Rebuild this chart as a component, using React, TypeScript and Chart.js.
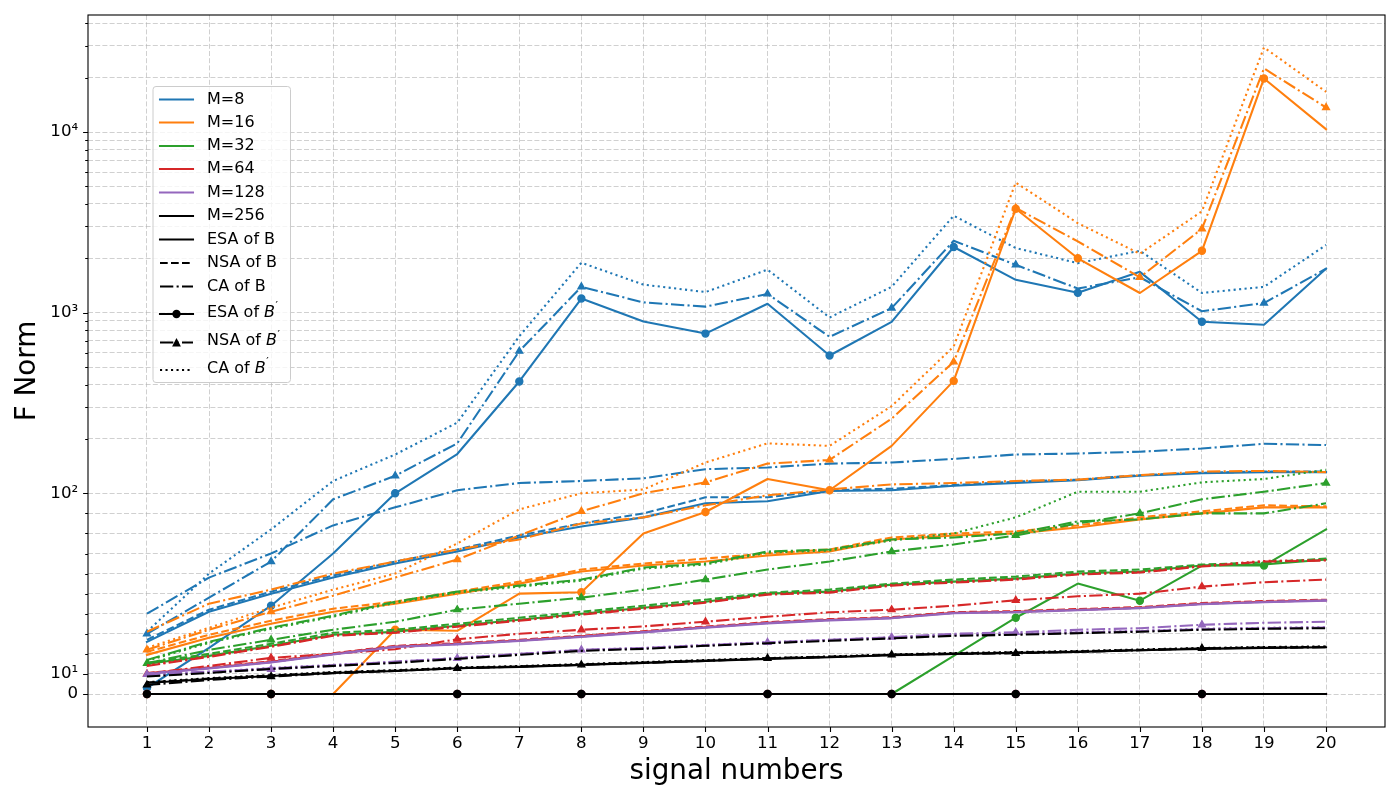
import React, { useEffect, useRef } from 'react';
import { Chart, registerables, LinearScale } from 'chart.js';

Chart.register(...registerables);

// ---------------- data ----------------
const SIGNALS = [1, 2, 3, 4, 5, 6, 7, 8, 9, 10, 11, 12, 13, 14, 15, 16, 17, 18, 19, 20];
const M_LABELS = ['M=8', 'M=16', 'M=32', 'M=64', 'M=128', 'M=256'];
const METHOD_LABELS = ['ESA of B', 'NSA of B', 'CA of B', 'ESA of B′', 'NSA of B′', 'CA of B′'];
const COLORS = ['#1f77b4', '#ff7f0e', '#2ca02c', '#d62728', '#9467bd', '#000000'];

const Y_TICKS = [0, 10, 20, 30, 40, 50, 60, 70, 80, 90, 100, 200, 300, 400, 500, 600, 700, 800, 900, 1000, 2000, 3000, 4000, 5000, 6000, 7000, 8000, 9000, 10000, 20000, 30000, 40000];
const Y_MAJOR = [0, 10, 100, 1000, 10000];
const Y_TICK_LABELS: Record<number, string> = { 0: '0', 10: '10¹', 100: '10²', 1000: '10³', 10000: '10⁴' };

const M8_ESA_B = [26, 41, 50, 58, 65, 71, 78, 83.5, 88, 95, 96, 103, 104, 110, 114, 118, 125, 129, 131, 131];
const M8_NSA_B = [27, 42, 51, 59, 66, 72, 79, 85, 90, 98, 98, 104, 106, 111, 116, 119, 126, 130, 132, 132];
const M8_CA_B = [40, 58, 70, 84, 93, 104, 114, 117, 121, 136, 139, 146, 148, 155, 164, 166, 170, 177, 188, 185];
const M8_ESA_BP = [3, 23, 44, 70, 100, 165, 416, 1197, 894, 766, 1120, 579, 889, 2310, 1520, 1290, 1683, 890, 858, 1750];
const M8_NSA_BP = [30, 48, 66, 97, 125, 189, 612, 1390, 1140, 1080, 1270, 735, 1060, 2500, 1840, 1360, 1570, 1018, 1130, 1750];
const M8_CA_BP = [31, 60, 82, 117, 164, 246, 740, 1890, 1430, 1300, 1730, 940, 1390, 3440, 2280, 1880, 2200, 1285, 1390, 2370];

const M16_ESA_B = [19.5, 28, 35, 41, 45, 50, 55, 61, 64, 66, 69, 71, 77, 79, 80, 83, 87, 90, 93, 93];
const M16_NSA_B = [21, 29.5, 36.5, 42.5, 46, 51, 56, 62, 65, 67.5, 70, 72, 78, 80, 81, 84, 88, 91, 94, 93.5];
const M16_CA_B = [31, 45, 52, 60, 66, 72, 77, 85, 88, 94, 99, 105, 112, 114, 117, 119, 126, 132, 133, 131];
const M16_ESA_BP = [0, 0, 0, 0, 32, 31.5, 50, 50.7, 80, 90.7, 120, 104, 183, 419, 3760, 2000, 1285, 2200, 19800, 10360];
const M16_NSA_BP = [22, 32, 41, 49, 58, 67, 79, 91, 100, 115, 146, 153, 259, 534, 3800, 2480, 1570, 2910, 22500, 13670];
const M16_CA_BP = [23, 33, 43, 52, 60, 75, 92, 100, 105, 148, 189, 183, 304, 650, 5250, 3130, 2120, 3640, 29400, 16700];

const M32_ESA_B = [15, 19, 24, 29.5, 31, 34, 37, 40, 43, 46, 50, 51, 54.5, 56, 57.5, 60, 61, 64, 64.5, 67];
const M32_NSA_B = [15.5, 20, 25, 30.5, 32, 35, 38, 41, 44, 47, 50.5, 52, 55, 57, 58.5, 61, 62, 64.5, 65.5, 67.5];
const M32_CA_B = [17, 26, 33, 39, 46, 51, 54, 57, 63, 65, 71, 72, 77, 78, 80, 86, 87, 90, 90, 95];
const M32_ESA_BP = [0, 0, 0, 0, 0, 0, 0, 0, 0, 0, 0, 0, 0, 19, 38, 55, 46.5, 64, 64, 82];
const M32_NSA_BP = [15.3, 22, 27, 32, 36, 42, 45, 48, 52, 57, 62, 66, 71, 74.5, 79, 85, 90, 97, 102, 114];
const M32_CA_BP = [16.5, 25.5, 32.5, 38.5, 45.5, 50.5, 53.5, 56.5, 62.5, 64.5, 70.5, 71.5, 76.5, 80, 88, 102, 102, 115, 120, 135];

const M64_ESA_B = [10.3, 13, 16, 20, 23.7, 25, 26.7, 28.7, 31, 33.3, 35.5, 37, 38, 40.5, 41, 42, 43, 45, 46, 46.7];
const M64_NSA_B = [10.5, 13.3, 16.3, 20.3, 24, 25.3, 27, 29, 31.3, 33.6, 35.8, 37.3, 38.3, 40.8, 41.3, 42.3, 43.3, 45.3, 46.3, 47];
const M64_CA_B = [14, 18.5, 23.5, 29, 30.5, 33.5, 36.5, 39.5, 42.5, 45.5, 49.5, 50.5, 54, 55.5, 57, 59.5, 60.5, 63.5, 66, 66.5];
const M64_ESA_BP = [0, 0, 0, 0, 0, 0, 0, 0, 0, 0, 0, 0, 0, 0, 0, 0, 0, 0, 0, 0];
const M64_NSA_BP = [10, 14, 18, 20, 22.3, 27.3, 30, 32, 33.7, 36, 38.5, 40.7, 42, 44, 46.7, 48.7, 50, 53.5, 55.7, 57];
const M64_CA_BP = [14.3, 18.8, 23.8, 29.3, 30.8, 33.8, 36.8, 39.8, 42.8, 45.8, 49.8, 50.8, 54.3, 55.8, 57.3, 59.8, 60.8, 63.8, 66.3, 66.8];

const M128_ESA_B = [10, 12.7, 15.7, 19.7, 23.4, 24.7, 26.4, 28.4, 30.7, 33, 35.2, 36.7, 37.7, 40.2, 40.7, 41.7, 42.7, 44.7, 45.7, 46.5];
const M128_NSA_B = [10.2, 12.9, 15.9, 19.9, 23.6, 24.9, 26.6, 28.6, 30.9, 33.2, 35.4, 36.9, 37.9, 40.4, 40.9, 41.9, 42.9, 44.9, 45.9, 46.7];
const M128_CA_B = [9, 10.8, 12.8, 14.3, 15.8, 17.8, 19.8, 21.8, 22.8, 24.3, 25.6, 26.8, 28, 29.3, 29.8, 30.6, 31.3, 32.3, 32.8, 33.1];
const M128_ESA_BP = [0, 0, 0, 0, 0, 0, 0, 0, 0, 0, 0, 0, 0, 0, 0, 0, 0, 0, 0, 0];
const M128_NSA_BP = [9.8, 11.2, 12.3, 14, 16.2, 17.8, 20, 22, 22.8, 24, 25.7, 27, 28.3, 30, 30.7, 32, 32.8, 34.5, 35.5, 36];
const M128_CA_BP = [9.2, 11, 13, 14.5, 16, 18, 20, 22, 23, 24.5, 25.8, 27, 28.2, 29.5, 30, 30.8, 31.5, 32.5, 33, 33.3];

const M256_ESA_B = [5.5, 7.5, 9, 10.5, 11.5, 12.8, 13.5, 14.5, 15.5, 16.5, 17.5, 18.3, 19.3, 20, 20.5, 21, 21.8, 22.5, 23, 23.3];
const M256_NSA_B = [5.7, 7.7, 9.2, 10.7, 11.7, 13, 13.7, 14.7, 15.7, 16.7, 17.7, 18.5, 19.5, 20.2, 20.7, 21.2, 22, 22.7, 23.2, 23.5];
const M256_CA_B = [8.7, 10.5, 12.5, 14, 15.5, 17.5, 19.5, 21.5, 22.5, 24, 25.3, 26.5, 27.7, 29, 29.5, 30.3, 31, 32, 32.5, 32.8];
const M256_ESA_BP = [0, 0, 0, 0, 0, 0, 0, 0, 0, 0, 0, 0, 0, 0, 0, 0, 0, 0, 0, 0];
const M256_NSA_BP = [4.5, 7, 8.7, 10.3, 11.5, 12.8, 13.7, 14.5, 15.5, 16.5, 17.8, 18.5, 19.5, 20, 20.3, 21, 21.8, 22.8, 23, 23.3];
const M256_CA_BP = [5.9, 7.9, 9.4, 10.9, 11.9, 13.2, 13.9, 14.9, 15.9, 16.9, 17.9, 18.7, 19.7, 20.4, 20.9, 21.4, 22.2, 22.9, 23.4, 23.7];

const SERIES: number[][][] = [
  [M8_ESA_B, M8_NSA_B, M8_CA_B, M8_ESA_BP, M8_NSA_BP, M8_CA_BP],
  [M16_ESA_B, M16_NSA_B, M16_CA_B, M16_ESA_BP, M16_NSA_BP, M16_CA_BP],
  [M32_ESA_B, M32_NSA_B, M32_CA_B, M32_ESA_BP, M32_NSA_BP, M32_CA_BP],
  [M64_ESA_B, M64_NSA_B, M64_CA_B, M64_ESA_BP, M64_NSA_BP, M64_CA_BP],
  [M128_ESA_B, M128_NSA_B, M128_CA_B, M128_ESA_BP, M128_NSA_BP, M128_CA_BP],
  [M256_ESA_B, M256_NSA_B, M256_CA_B, M256_ESA_BP, M256_NSA_BP, M256_CA_BP],
];

// ---------------- styles ----------------
const FONT = "'DejaVu Sans', 'Liberation Sans', sans-serif";
const LW = 2.08;
const DASHED = [7.7, 3.3];
const DASHDOT = [13.3, 3.3, 2.1, 3.3];
const DOTTED = [2.1, 3.4];
const METHOD_STYLES: { dash: number[]; marker: string | null }[] = [
  { dash: [], marker: null },
  { dash: DASHED, marker: null },
  { dash: DASHDOT, marker: null },
  { dash: [], marker: 'circle' },
  { dash: DASHDOT, marker: 'triangle' },
  { dash: DOTTED, marker: null },
];
const GRID_COLOR = 'rgba(176,176,176,0.6)';
const GRID_DASH = [5, 2.2];

// ---------------- symlog scale (linthresh 100, linscale 1) ----------------
const LINTHRESH = 100;
const LINSCALE_ADJ = 1 / (1 - 1 / 10);
function symT(v: number): number {
  const a = Math.abs(v);
  if (a <= LINTHRESH) return v * LINSCALE_ADJ;
  return Math.sign(v) * LINTHRESH * (LINSCALE_ADJ + Math.log10(a / LINTHRESH));
}
function symInv(t: number): number {
  const a = Math.abs(t);
  if (a <= LINTHRESH * LINSCALE_ADJ) return t / LINSCALE_ADJ;
  return Math.sign(t) * LINTHRESH * Math.pow(10, a / LINTHRESH - LINSCALE_ADJ);
}

class SymlogScale extends (LinearScale as any) {
  static id = 'symlog';
  static defaults = {};
  getPixelForValue(value: number) {
    if (value === null || value === undefined || isNaN(value)) return NaN;
    const t0 = symT(this.min);
    const t1 = symT(this.max);
    return this.getPixelForDecimal((symT(value) - t0) / (t1 - t0));
  }
  getValueForPixel(pixel: number) {
    const t0 = symT(this.min);
    const t1 = symT(this.max);
    return symInv(t0 + this.getDecimalForPixel(pixel) * (t1 - t0));
  }
}
Chart.register(SymlogScale as any);

// ---------------- matplotlib-like markevery=0.1 ----------------
const markerCache = new Map<number, Set<number>>();
function markerIndices(chart: any, dsIndex: number): Set<number> | null {
  if (markerCache.has(dsIndex)) return markerCache.get(dsIndex)!;
  const ca = chart.chartArea;
  const xs = chart.scales.x;
  const ys = chart.scales.y;
  if (!ca || !xs || !ys) return null;
  const data = chart.data.datasets[dsIndex].data as { x: number; y: number }[];
  const pts = data.map((p) => [xs.getPixelForValue(p.x), ys.getPixelForValue(p.y)]);
  if (pts.some((p) => !isFinite(p[0]) || !isFinite(p[1]))) return null;
  const cum: number[] = [0];
  for (let i = 1; i < pts.length; i++) {
    cum.push(cum[i - 1] + Math.hypot(pts[i][0] - pts[i - 1][0], pts[i][1] - pts[i - 1][1]));
  }
  const diag = Math.hypot(ca.right - ca.left, ca.bottom - ca.top);
  const step = 0.1 * diag;
  const set = new Set<number>();
  const total = cum[cum.length - 1];
  for (let d = 0; d < total; d += step) {
    let best = 0;
    let bestDiff = Infinity;
    for (let i = 0; i < cum.length; i++) {
      const diff = Math.abs(cum[i] - d);
      if (diff < bestDiff) {
        bestDiff = diff;
        best = i;
      }
    }
    set.add(best);
  }
  markerCache.set(dsIndex, set);
  return set;
}

// ---------------- plugin: frame, ticks, legend ----------------
const LEGEND_ROWS_Y = [99.5, 122.5, 146, 169, 192.5, 216, 239.5, 263, 286.5, 314, 342.5, 370];

function drawTriangle(ctx: CanvasRenderingContext2D, x: number, y: number, r: number) {
  ctx.beginPath();
  ctx.moveTo(x, y - r);
  ctx.lineTo(x - r, y + r * 0.9);
  ctx.lineTo(x + r, y + r * 0.9);
  ctx.closePath();
  ctx.fill();
}

const mplPlugin = {
  id: 'mplDecor',
  beforeDatasetsUpdate() {
    markerCache.clear();
  },
  afterDatasetsDraw(chart: any) {
    const ctx: CanvasRenderingContext2D = chart.ctx;
    const ca = chart.chartArea;
    const xs = chart.scales.x;
    const ys = chart.scales.y;
    ctx.save();
    // frame
    ctx.strokeStyle = '#000';
    ctx.lineWidth = 1.1;
    ctx.setLineDash([]);
    ctx.strokeRect(ca.left, ca.top, ca.right - ca.left, ca.bottom - ca.top);
    // tick marks
    ctx.beginPath();
    for (const v of SIGNALS) {
      const px = Math.round(xs.getPixelForValue(v)) + 0.5;
      ctx.moveTo(px, ca.bottom);
      ctx.lineTo(px, ca.bottom + 4.9);
    }
    for (const v of Y_TICKS) {
      const py = Math.round(ys.getPixelForValue(v)) + 0.5;
      const len = Y_MAJOR.includes(v) ? 4.9 : 2.8;
      ctx.moveTo(ca.left, py);
      ctx.lineTo(ca.left - len, py);
    }
    ctx.stroke();
    ctx.restore();
  },
  afterDraw(chart: any) {
    const ctx: CanvasRenderingContext2D = chart.ctx;
    const ca = chart.chartArea;
    ctx.save();
    // legend box
    const bx = ca.left + 65;
    const by = ca.top + 71.5;
    const bw = 137.5;
    const bh = 296;
    const rr = 3;
    ctx.beginPath();
    ctx.moveTo(bx + rr, by);
    ctx.lineTo(bx + bw - rr, by);
    ctx.arcTo(bx + bw, by, bx + bw, by + rr, rr);
    ctx.lineTo(bx + bw, by + bh - rr);
    ctx.arcTo(bx + bw, by + bh, bx + bw - rr, by + bh, rr);
    ctx.lineTo(bx + rr, by + bh);
    ctx.arcTo(bx, by + bh, bx, by + bh - rr, rr);
    ctx.lineTo(bx, by + rr);
    ctx.arcTo(bx, by, bx + rr, by, rr);
    ctx.closePath();
    ctx.fillStyle = 'rgba(255,255,255,0.8)';
    ctx.fill();
    ctx.strokeStyle = '#cccccc';
    ctx.lineWidth = 1;
    ctx.stroke();

    const hx0 = bx + 7;
    const hx1 = hx0 + 33;
    const tx = hx1 + 14;
    const rows: { label: string; color: string; style: number }[] = [
      ...M_LABELS.map((l, i) => ({ label: l, color: COLORS[i], style: 0 })),
      ...METHOD_LABELS.map((l, j) => ({ label: l, color: '#000000', style: j })),
    ];
    rows.forEach((row, k) => {
      const y = ca.top + (LEGEND_ROWS_Y[k] - 15);
      const st = METHOD_STYLES[row.style];
      ctx.strokeStyle = row.color;
      ctx.fillStyle = row.color;
      ctx.lineWidth = LW;
      ctx.lineCap = st.dash.length ? 'butt' : 'square';
      ctx.setLineDash(st.dash);
      ctx.beginPath();
      ctx.moveTo(hx0, y);
      ctx.lineTo(hx1, y);
      ctx.stroke();
      ctx.setLineDash([]);
      const mx = (hx0 + hx1) / 2;
      if (st.marker === 'circle') {
        ctx.beginPath();
        ctx.arc(mx, y, 4.2, 0, Math.PI * 2);
        ctx.fill();
      } else if (st.marker === 'triangle') {
        drawTriangle(ctx, mx, y, 4.4);
      }
      ctx.fillStyle = '#000';
      ctx.textBaseline = 'middle';
      ctx.textAlign = 'left';
      const isPrime = row.label.endsWith('′');
      if (!isPrime) {
        ctx.font = `16px ${FONT}`;
        ctx.fillText(row.label, tx, y);
      } else {
        const base = row.label.slice(0, -2);
        const ty = y - 1.5;
        ctx.font = `16px ${FONT}`;
        ctx.fillText(base, tx, ty);
        let x = tx + ctx.measureText(base).width;
        ctx.font = `italic 16px ${FONT}`;
        ctx.fillText('B', x, ty);
        x += ctx.measureText('B').width;
        ctx.font = `11px ${FONT}`;
        ctx.fillText('′', x + 0.5, ty - 6);
      }
    });
    ctx.restore();
  },
};

// ---------------- component ----------------
export default function App() {
  const canvasRef = useRef<HTMLCanvasElement | null>(null);

  useEffect(() => {
    if (!canvasRef.current) return;
    const datasets: any[] = [];
    const total = SERIES.length * METHOD_STYLES.length;
    SERIES.forEach((group, mi) => {
      group.forEach((values, j) => {
        const st = METHOD_STYLES[j];
        const idx = datasets.length;
        datasets.push({
          label: `${M_LABELS[mi]} ${METHOD_LABELS[j]}`,
          data: values.map((v, i) => ({ x: SIGNALS[i], y: v })),
          borderColor: COLORS[mi],
          backgroundColor: COLORS[mi],
          borderWidth: LW,
          borderDash: st.dash,
          borderCapStyle: st.dash.length ? 'butt' : 'square',
          borderJoinStyle: 'round',
          tension: 0,
          fill: false,
          order: total - idx,
          pointStyle: st.marker === 'triangle' ? 'triangle' : 'circle',
          pointBorderWidth: 1.4,
          pointBorderColor: COLORS[mi],
          pointBackgroundColor: COLORS[mi],
          pointRadius: (c: any) => {
            if (!st.marker || c.type !== 'data') return 0;
            const set = markerIndices(c.chart, c.datasetIndex);
            if (!set) return 0;
            return set.has(c.dataIndex) ? (st.marker === 'triangle' ? 3.9 : 3.5) : 0;
          },
          pointHoverRadius: 0,
        });
      });
    });

    const chart = new Chart(canvasRef.current, {
      type: 'line',
      data: { datasets },
      options: {
        animation: false,
        responsive: true,
        maintainAspectRatio: false,
        devicePixelRatio: 1,
        events: [],
        layout: { autoPadding: false, padding: { left: 8, top: 15, right: 15, bottom: 0 } },
        plugins: { legend: { display: false }, tooltip: { enabled: false } },
        scales: {
          x: {
            type: 'linear',
            min: 0.05,
            max: 20.95,
            bounds: 'data',
            afterBuildTicks: (s: any) => {
              s.ticks = SIGNALS.map((v) => ({ value: v }));
            },
            afterFit: (s: any) => {
              s.height = 73;
              s.paddingLeft = 0;
              s.paddingRight = 0;
            },
            ticks: {
              autoSkip: false,
              maxRotation: 0,
              padding: 7,
              color: '#000',
              font: { family: FONT, size: 16.67 },
              callback: (v: any) => String(v),
            },
            grid: { color: GRID_COLOR, lineWidth: 1, drawTicks: false },
            border: { display: false, dash: GRID_DASH },
            title: {
              display: true,
              text: 'signal numbers',
              color: '#000',
              font: { family: FONT, size: 27.8 },
              padding: { top: 0, bottom: 11.5 },
            },
          },
          y: {
            type: 'symlog' as any,
            min: -16.44,
            max: 44450,
            bounds: 'data',
            afterBuildTicks: (s: any) => {
              s.ticks = Y_TICKS.map((v) => ({ value: v }));
            },
            afterFit: (s: any) => {
              s.width = 80;
              s.paddingTop = 0;
              s.paddingBottom = 0;
            },
            ticks: {
              autoSkip: false,
              padding: 9.8,
              color: '#000',
              font: { family: FONT, size: 16.67 },
              callback: (v: any) => (Y_TICK_LABELS[v as number] !== undefined ? Y_TICK_LABELS[v as number] : ''),
            },
            grid: { color: GRID_COLOR, lineWidth: 1, drawTicks: false },
            border: { display: false, dash: GRID_DASH },
            title: {
              display: true,
              text: 'F Norm',
              color: '#000',
              font: { family: FONT, size: 27.8 },
              padding: { top: 3.3, bottom: 0 },
            },
          } as any,
        },
      } as any,
      plugins: [mplPlugin as any],
    });
    return () => chart.destroy();
  }, []);

  return (
    <div style={{ position: 'absolute', left: 0, top: 0, width: 1400, height: 800, background: '#fff' }}>
      <canvas ref={canvasRef} />
    </div>
  );
}
